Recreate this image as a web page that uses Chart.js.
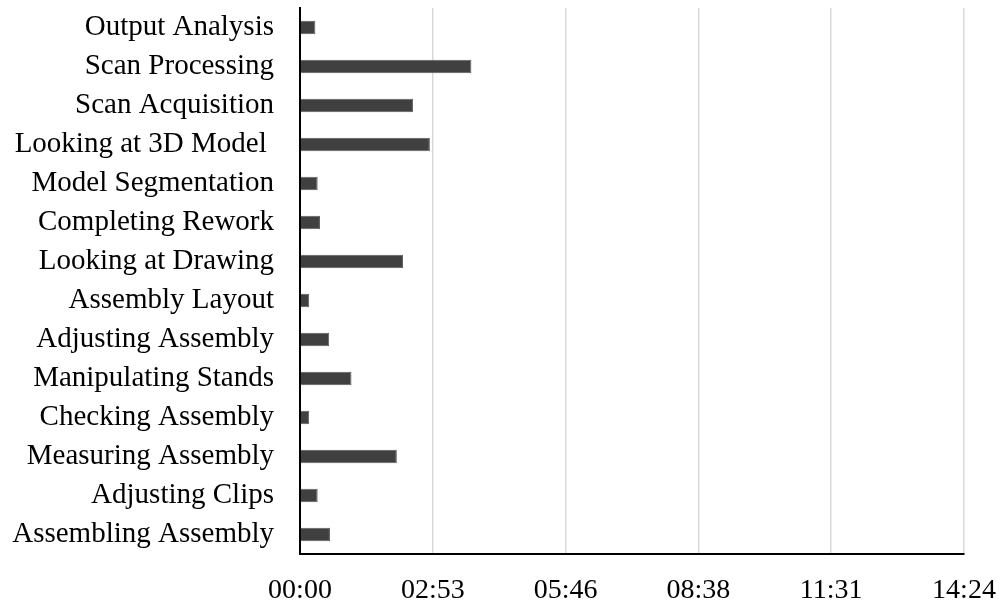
<!DOCTYPE html>
<html>
<head>
<meta charset="utf-8">
<script src="https://cdn.jsdelivr.net/npm/chart.js@4/dist/chart.umd.min.js"></script>
<style>
  html, body { margin: 0; padding: 0; background: #ffffff; }
  #wrap { width: 1004px; height: 605px; }
</style>
</head>
<body>
<div id="wrap"><canvas id="c" width="1004" height="605"></canvas></div>
<script>
// Activity names, listed top to bottom
const activities = [
  'Output Analysis',
  'Scan Processing',
  'Scan Acquisition',
  'Looking at 3D Model ',
  'Model Segmentation',
  'Completing Rework',
  'Looking at Drawing',
  'Assembly Layout',
  'Adjusting Assembly',
  'Manipulating Stands',
  'Checking Assembly',
  'Measuring Assembly',
  'Adjusting Clips',
  'Assembling Assembly'
];

// Time spent on each activity, in seconds
const durationSeconds = [20, 223, 147, 169, 23, 26, 134, 12, 38, 67, 12, 126, 23, 39];

// Time axis ticks (seconds) and their mm:ss labels
const tickSeconds = [0, 172.8, 345.6, 518.4, 691.2, 864];
const tickLabels = ['00:00', '02:53', '05:46', '08:38', '11:31', '14:24'];

const serif = '"Liberation Serif", "Times New Roman", serif';

new Chart(document.getElementById('c'), {
  type: 'bar',
  data: {
    labels: activities,
    datasets: [{
      data: durationSeconds,
      backgroundColor: '#404040',
      borderColor: '#5c5c5c',
      borderWidth: 1,
      borderSkipped: 'start',
      barPercentage: 0.34,
      categoryPercentage: 1
    }]
  },
  options: {
    indexAxis: 'y',
    responsive: false,
    animation: false,
    layout: { padding: { top: 8, right: 40, left: 0, bottom: 0 } },
    plugins: { legend: { display: false }, tooltip: { enabled: false } },
    scales: {
      x: {
        min: tickSeconds[0],
        max: tickSeconds[tickSeconds.length - 1],
        afterBuildTicks: (scale) => {
          scale.ticks = tickSeconds.map(v => ({ value: v }));
        },
        afterFit: (scale) => {
          scale.height = 51;
          scale.paddingLeft = 0;
          scale.paddingRight = 0;
        },
        grid: {
          drawTicks: false,
          color: (ctx) => ctx.index === 0 ? 'rgba(0,0,0,0)' : '#d9d9d9',
          lineWidth: 1.5
        },
        border: { display: true, color: '#000000', width: 2 },
        ticks: {
          maxRotation: 0,
          autoSkip: false,
          padding: 20,
          color: '#000000',
          font: { family: serif, size: 28 },
          callback: (value, index) => tickLabels[index]
        }
      },
      y: {
        afterFit: (scale) => {
          scale.width = 300;
          scale.paddingTop = 0;
          scale.paddingBottom = 0;
        },
        grid: { display: false, drawTicks: false },
        border: { display: true, color: '#000000', width: 2 },
        ticks: {
          padding: 26,
          autoSkip: false,
          color: '#000000',
          font: { family: serif, size: 29 }
        }
      }
    }
  }
});
</script>
</body>
</html>
